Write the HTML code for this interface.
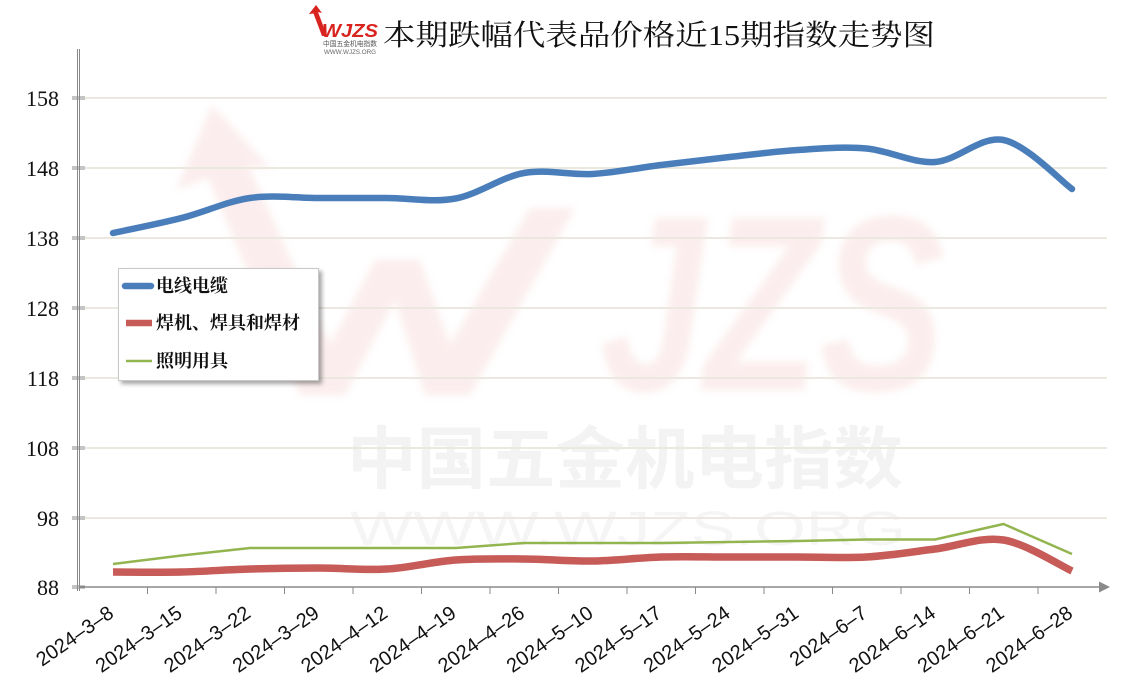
<!DOCTYPE html>
<html>
<head>
<meta charset="utf-8">
<style>
html,body{margin:0;padding:0;background:#fff;}
body{width:1133px;height:690px;overflow:hidden;}
svg{display:block;}
</style>
</head>
<body>
<svg width="1133" height="690" viewBox="0 0 1133 690" xmlns="http://www.w3.org/2000/svg">
<defs>
<filter id="sh" x="-10%" y="-10%" width="130%" height="130%">
<feDropShadow dx="3" dy="3" stdDeviation="2" flood-color="#000" flood-opacity="0.35"/>
</filter>
<filter id="blur1"><feGaussianBlur stdDeviation="4"/></filter>
</defs>
<rect width="1133" height="690" fill="#fff"/>

<!-- watermark -->
<g opacity="0.35" filter="url(#blur1)">
<polygon points="212,105 176,190 208,178 300,395 345,395 395,300 425,395 470,395 575,208 530,208 450,345 420,260 375,260 330,345 248,165 272,170" fill="#f5cccc"/>
<text x="600" y="390" font-family="Liberation Sans, sans-serif" font-weight="bold" font-style="italic" font-size="250" textLength="345" lengthAdjust="spacingAndGlyphs" fill="#f5cccc">JZS</text>
</g>
<text x="347" y="483" font-family="'Liberation Sans','Noto Sans CJK SC',sans-serif" font-weight="bold" font-size="68" textLength="556" lengthAdjust="spacingAndGlyphs" fill="#f3f3f3">中国五金机电指数</text>
<text x="350" y="545" font-family="'Liberation Sans',sans-serif" font-size="48" textLength="556" lengthAdjust="spacingAndGlyphs" fill="#f5f5f5">WWW.WJZS.ORG</text>

<!-- gridlines -->
<g stroke="#ebe9df" stroke-width="2">
<line x1="85" y1="98" x2="1107" y2="98"/>
<line x1="85" y1="168" x2="1107" y2="168"/>
<line x1="85" y1="238" x2="1107" y2="238"/>
<line x1="85" y1="308" x2="1107" y2="308"/>
<line x1="85" y1="378" x2="1107" y2="378"/>
<line x1="85" y1="448" x2="1107" y2="448"/>
<line x1="85" y1="518" x2="1107" y2="518"/>
</g>

<!-- y axis -->
<g stroke="#8a8a8a" stroke-width="1">
<line x1="77.5" y1="49" x2="77.5" y2="591"/>
<line x1="79.5" y1="49" x2="79.5" y2="591"/>
<line x1="72" y1="97" x2="85" y2="97"/><line x1="72" y1="99" x2="85" y2="99"/>
<line x1="72" y1="167" x2="85" y2="167"/><line x1="72" y1="169" x2="85" y2="169"/>
<line x1="72" y1="237" x2="85" y2="237"/><line x1="72" y1="239" x2="85" y2="239"/>
<line x1="72" y1="307" x2="85" y2="307"/><line x1="72" y1="309" x2="85" y2="309"/>
<line x1="72" y1="377" x2="85" y2="377"/><line x1="72" y1="379" x2="85" y2="379"/>
<line x1="72" y1="447" x2="85" y2="447"/><line x1="72" y1="449" x2="85" y2="449"/>
<line x1="72" y1="517" x2="85" y2="517"/><line x1="72" y1="519" x2="85" y2="519"/>
<line x1="72" y1="586" x2="85" y2="586"/><line x1="72" y1="588" x2="85" y2="588"/>
</g>
<g font-family="'Liberation Serif',serif" font-size="22" fill="#111" text-anchor="end">
<text x="59" y="106">158</text>
<text x="59" y="176">148</text>
<text x="59" y="246">138</text>
<text x="59" y="316">128</text>
<text x="59" y="386">118</text>
<text x="59" y="456">108</text>
<text x="59" y="526">98</text>
<text x="59" y="595">88</text>
</g>

<!-- x axis -->
<line x1="79" y1="587" x2="1101" y2="587" stroke="#8a8a8a" stroke-width="1.5"/>
<polygon points="1099,581.5 1110,587 1099,592.5" fill="#8a8a8a"/>
<g stroke="#8a8a8a" stroke-width="1">
<line x1="147.5" y1="587" x2="147.5" y2="594"/>
<line x1="216" y1="587" x2="216" y2="594"/>
<line x1="284.5" y1="587" x2="284.5" y2="594"/>
<line x1="353" y1="587" x2="353" y2="594"/>
<line x1="421.5" y1="587" x2="421.5" y2="594"/>
<line x1="490" y1="587" x2="490" y2="594"/>
<line x1="558.5" y1="587" x2="558.5" y2="594"/>
<line x1="627" y1="587" x2="627" y2="594"/>
<line x1="695.5" y1="587" x2="695.5" y2="594"/>
<line x1="764" y1="587" x2="764" y2="594"/>
<line x1="832.5" y1="587" x2="832.5" y2="594"/>
<line x1="901" y1="587" x2="901" y2="594"/>
<line x1="969.5" y1="587" x2="969.5" y2="594"/>
<line x1="1038" y1="587" x2="1038" y2="594"/>
</g>
<g font-family="'Liberation Sans',sans-serif" font-size="20" fill="#111" text-anchor="end">
<text transform="translate(115,616) rotate(-35)">2024–3–8</text>
<text transform="translate(183.5,616) rotate(-35)">2024–3–15</text>
<text transform="translate(252,616) rotate(-35)">2024–3–22</text>
<text transform="translate(320.5,616) rotate(-35)">2024–3–29</text>
<text transform="translate(389,616) rotate(-35)">2024–4–12</text>
<text transform="translate(457.5,616) rotate(-35)">2024–4–19</text>
<text transform="translate(526,616) rotate(-35)">2024–4–26</text>
<text transform="translate(594.5,616) rotate(-35)">2024–5–10</text>
<text transform="translate(663,616) rotate(-35)">2024–5–17</text>
<text transform="translate(731.5,616) rotate(-35)">2024–5–24</text>
<text transform="translate(800,616) rotate(-35)">2024–5–31</text>
<text transform="translate(868.5,616) rotate(-35)">2024–6–7</text>
<text transform="translate(937,616) rotate(-35)">2024–6–14</text>
<text transform="translate(1005.5,616) rotate(-35)">2024–6–21</text>
<text transform="translate(1074,616) rotate(-35)">2024–6–28</text>
</g>

<!-- series -->
<polyline fill="none" stroke="#93b550" stroke-width="2.5" stroke-linejoin="round" points="113,564 181.5,555.5 250,548 318.5,548 387,548 455.5,548 524,543 592.5,543 661,543 729.5,542 798,541 866.5,539.5 935,539.5 1003.5,524 1072,554"/>
<path fill="none" stroke="#c65b58" stroke-width="7.5" stroke-linecap="butt" d="M113,572 C124.42,572 158.67,572.5 181.5,572 C204.33,571.5 227.17,569.67 250,569 C272.83,568.33 295.67,568 318.5,568 C341.33,568 364.17,570.33 387,569 C409.83,567.67 432.67,561.67 455.5,560 C478.33,558.33 501.17,558.83 524,559 C546.83,559.17 569.67,561.33 592.5,561 C615.33,560.67 638.17,557.67 661,557 C683.83,556.33 706.67,557 729.5,557 C752.33,557 775.17,557 798,557 C820.83,557 843.67,558.33 866.5,557 C889.33,555.67 912.17,551.83 935,549 C957.83,546.17 980.67,536.33 1003.5,540 C1026.33,543.67 1060.58,565.83 1072,571"/>
<path fill="none" stroke="#4a7ebb" stroke-width="6.5" stroke-linecap="round" d="M113,233 C124.42,230.5 158.67,223.83 181.5,218 C204.33,212.17 227.17,201.33 250,198 C272.83,194.67 295.67,198 318.5,198 C341.33,198 364.17,197.92 387,198 C409.83,198.08 432.67,202.67 455.5,198.5 C478.33,194.33 501.17,177.08 524,173 C546.83,168.92 569.67,175.33 592.5,174 C615.33,172.67 638.17,167.83 661,165 C683.83,162.17 706.67,159.5 729.5,157 C752.33,154.5 775.17,151.42 798,150 C820.83,148.58 843.67,146.5 866.5,148.5 C889.33,150.5 912.17,163.42 935,162 C957.83,160.58 980.67,135.5 1003.5,140 C1026.33,144.5 1060.58,180.83 1072,189"/>

<!-- legend -->
<rect x="118.5" y="268.5" width="200" height="112" fill="#fff" stroke="#c8c8c8" stroke-width="1" filter="url(#sh)"/>
<line x1="125" y1="286" x2="151" y2="286" stroke="#4a7ebb" stroke-width="6.5" stroke-linecap="round"/>
<line x1="126" y1="323" x2="152" y2="323" stroke="#c65b58" stroke-width="6.5"/>
<line x1="126" y1="361" x2="152" y2="361" stroke="#93b550" stroke-width="2.5"/>
<g font-family="'Liberation Serif','Noto Serif CJK SC',serif" font-size="18" font-weight="bold" fill="#111">
<text x="156" y="292">电线电缆</text>
<text x="156" y="329">焊机、焊具和焊材</text>
<text x="156" y="367">照明用具</text>
</g>

<!-- title logo -->
<path d="M316,5 L309,14 L313.5,13.5 L322,36 L327,36 L318,12 L322,13 Z" fill="#d8231e"/>
<text x="322" y="37" font-family="'Liberation Sans',sans-serif" font-weight="bold" font-style="italic" font-size="18" textLength="56" lengthAdjust="spacingAndGlyphs" fill="#d8231e">WJZS</text>
<text x="323" y="46" font-family="'Liberation Sans','Noto Sans CJK SC',sans-serif" font-size="7" textLength="54" lengthAdjust="spacingAndGlyphs" fill="#555">中国五金机电指数</text>
<text x="324" y="54" font-family="'Liberation Sans',sans-serif" font-size="6" textLength="52" lengthAdjust="spacingAndGlyphs" fill="#666">WWW.WJZS.ORG</text>

<!-- title -->
<text x="383" y="45" font-family="'Liberation Serif','Noto Serif CJK SC',serif" font-size="29" fill="#111" textLength="552" lengthAdjust="spacingAndGlyphs">本期跌幅代表品价格近15期指数走势图</text>
</svg>
</body>
</html>
